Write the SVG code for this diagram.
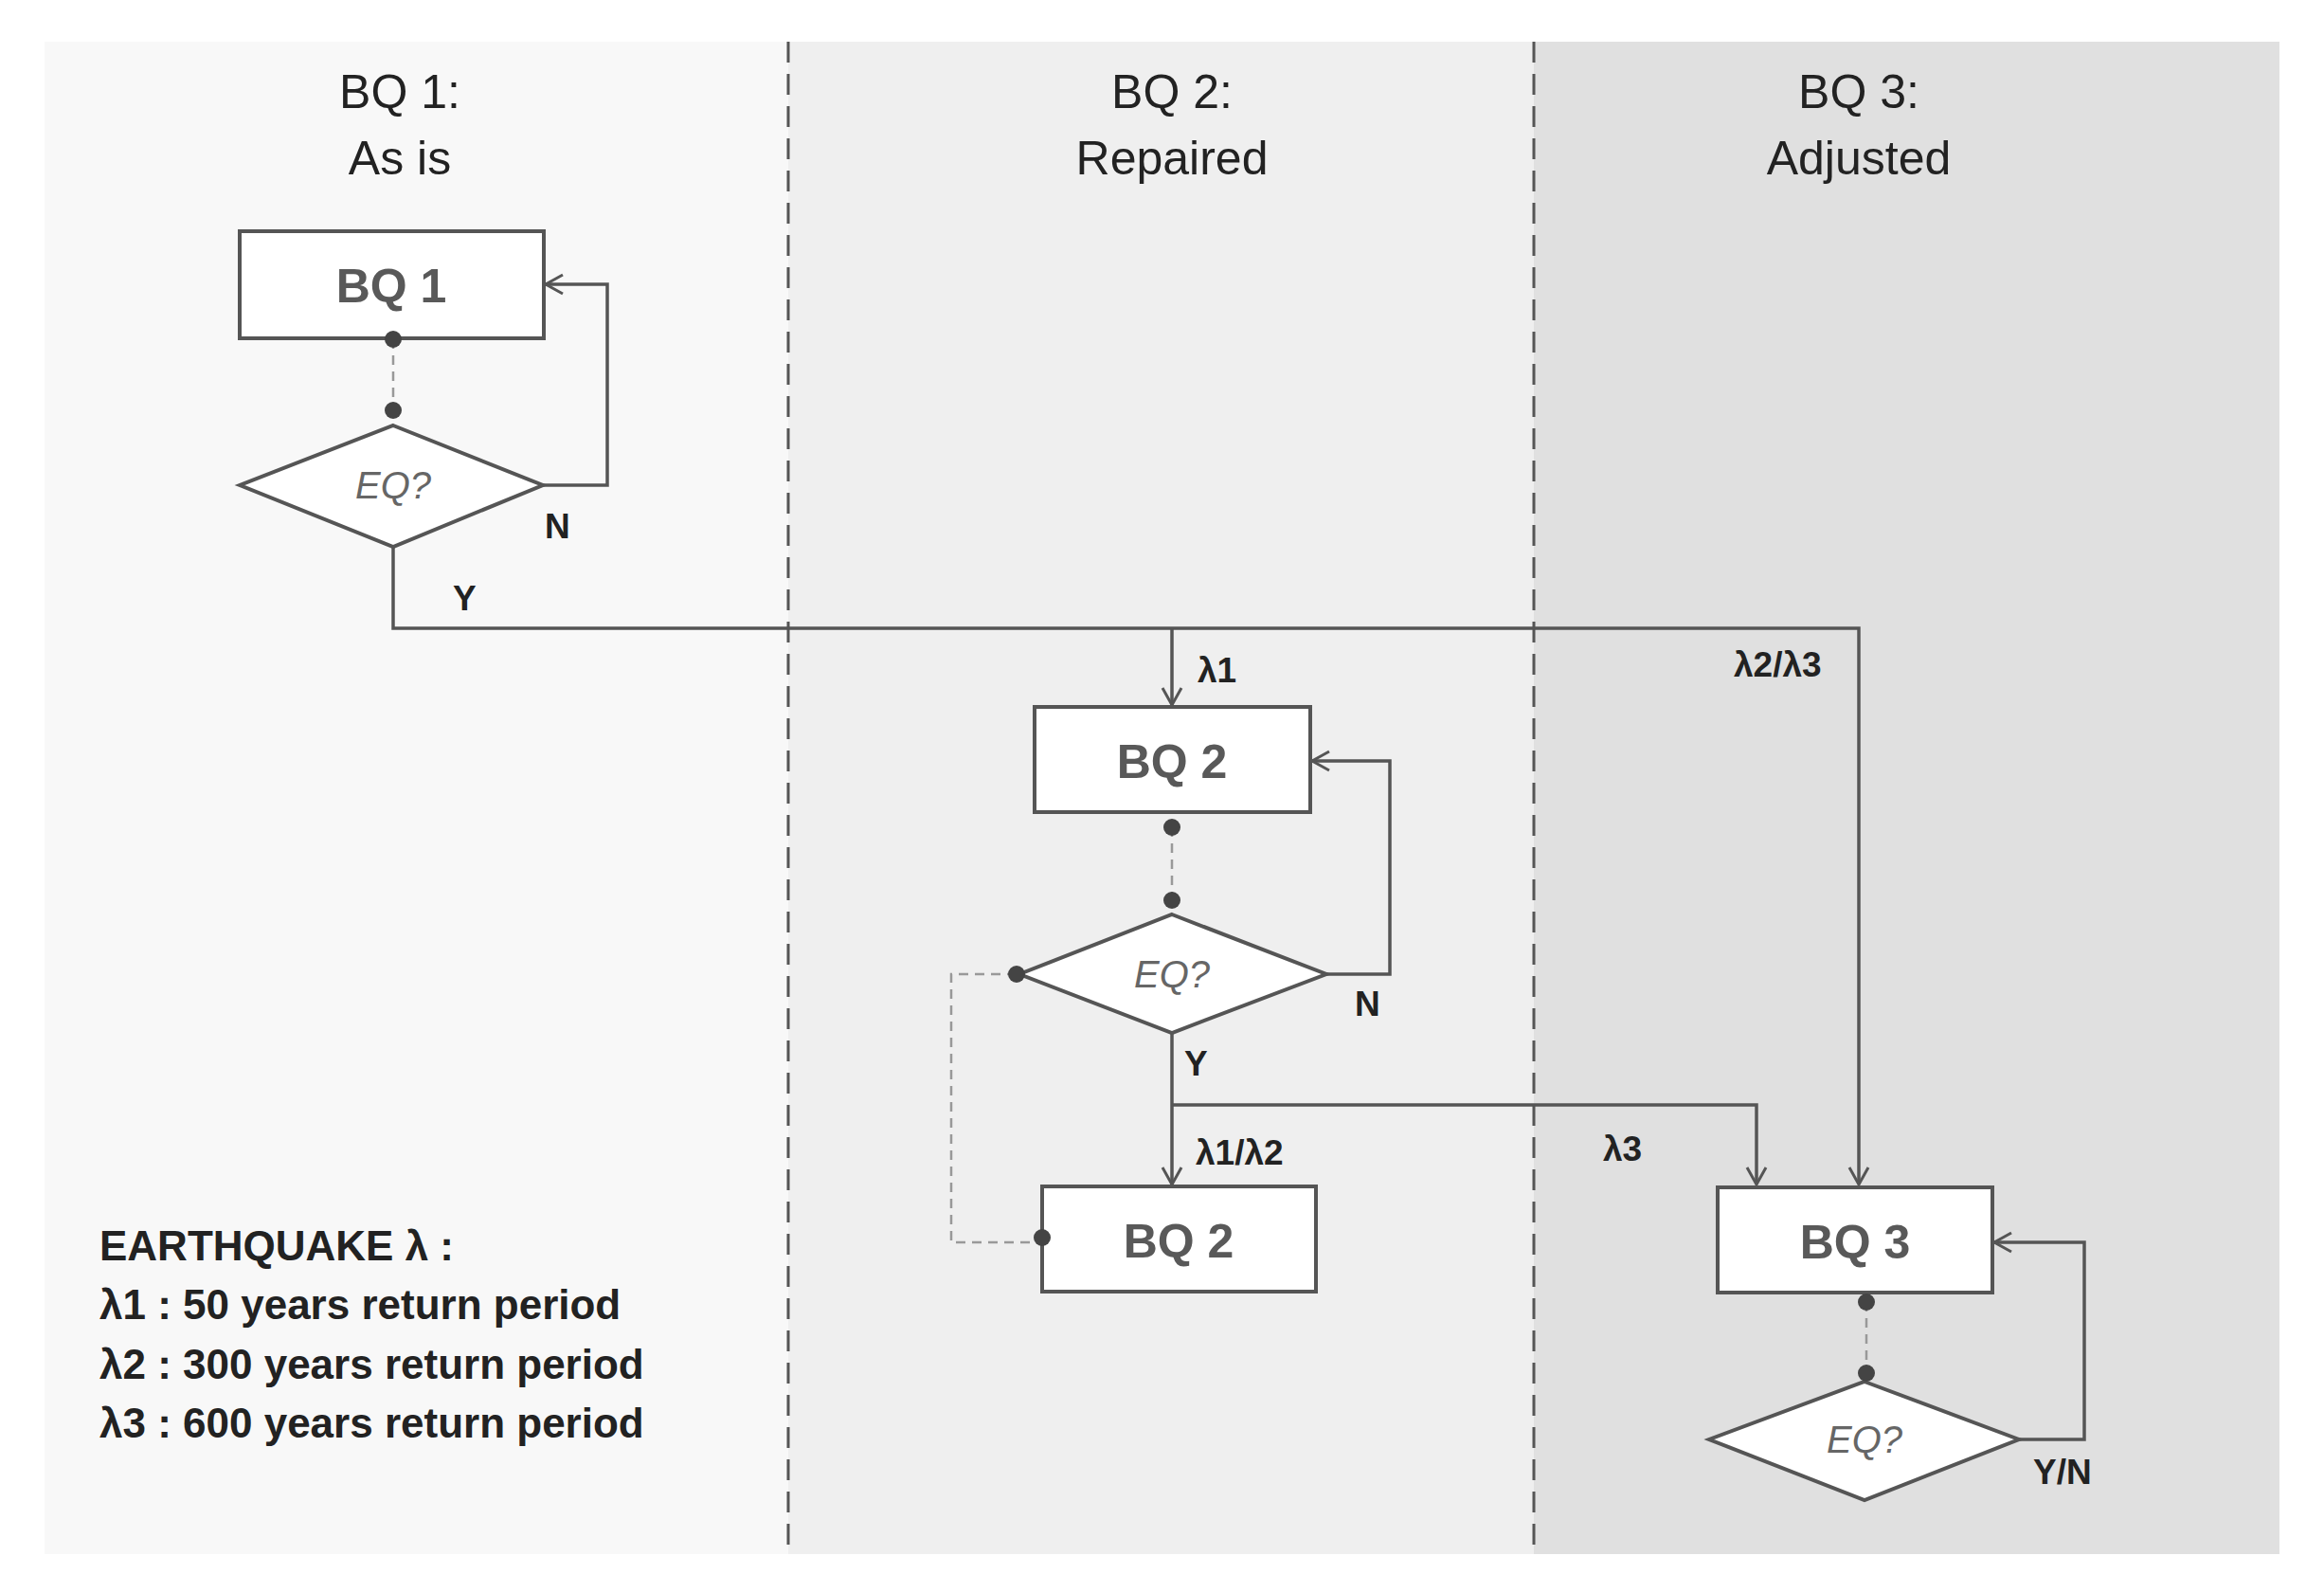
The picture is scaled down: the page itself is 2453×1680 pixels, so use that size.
<svg xmlns="http://www.w3.org/2000/svg" width="2453" height="1680" viewBox="0 0 2453 1680">
<defs>
<marker id="ar" markerWidth="24" markerHeight="24" refX="20" refY="12" orient="auto" markerUnits="userSpaceOnUse"><path d="M2,2 L20,12 L2,22" fill="none" stroke="#555" stroke-width="3"/></marker>
</defs>
<style>
.box{fill:#fff;stroke:#555;stroke-width:4}
.nt{font-family:"Liberation Sans",Arial,sans-serif;font-weight:bold;font-size:50px;fill:#595959;text-anchor:middle}
.eq{font-family:"Liberation Sans",Arial,sans-serif;font-style:italic;font-size:40px;fill:#666;text-anchor:middle}
.ttl{font-family:"Liberation Sans",Arial,sans-serif;font-size:50px;fill:#222;text-anchor:middle}
.lb{font-family:"Liberation Sans",Arial,sans-serif;font-weight:bold;font-size:37px;fill:#222}
.lg{font-family:"Liberation Sans",Arial,sans-serif;font-weight:bold;font-size:44px;fill:#222}
.ln{fill:none;stroke:#555;stroke-width:3.5}
.dl{fill:none;stroke:#999;stroke-width:2.5;stroke-dasharray:10 7}
.dot{fill:#444}
.sep{stroke:#555;stroke-width:3;stroke-dasharray:22 12}
</style>
<rect width="2453" height="1680" fill="#fff"/>
<rect x="47" y="44" width="785" height="1596" fill="#f8f8f8"/>
<rect x="832" y="44" width="787" height="1596" fill="#efefef"/>
<rect x="1619" y="44" width="787" height="1596" fill="#e0e0e0"/>
<line class="sep" x1="832" y1="44" x2="832" y2="1640"/>
<line class="sep" x1="1619" y1="44" x2="1619" y2="1640"/>
<text class="ttl" x="422" y="114">BQ 1:</text><text class="ttl" x="422" y="184">As is</text>
<text class="ttl" x="1237" y="114">BQ 2:</text><text class="ttl" x="1237" y="184">Repaired</text>
<text class="ttl" x="1962" y="114">BQ 3:</text><text class="ttl" x="1962" y="184">Adjusted</text>
<g id="connectors">
<line class="dl" x1="415" y1="358" x2="415" y2="433"/>
<path class="ln" d="M573,512 H641 V300 H576" marker-end="url(#ar)"/>
<path class="ln" d="M415,577 V663 H1962 V1250" marker-end="url(#ar)"/>
<path class="ln" d="M1237,663 V744" marker-end="url(#ar)"/>
<line class="dl" x1="1237" y1="873" x2="1237" y2="950"/>
<path class="ln" d="M1400,1028 H1467 V803 H1385" marker-end="url(#ar)"/>
<path class="ln" d="M1237,1090 V1250" marker-end="url(#ar)"/>
<path class="ln" d="M1237,1166 H1854 V1250" marker-end="url(#ar)"/>
<path class="dl" d="M1073,1028 H1004 V1311 H1100"/>
<line class="dl" x1="1970" y1="1374" x2="1970" y2="1449"/>
<path class="ln" d="M2131,1519 H2200 V1311 H2105" marker-end="url(#ar)"/>
<text class="lb" x="575" y="568">N</text>
<text class="lb" x="478" y="644">Y</text>
<text class="lb" x="1264" y="720">λ1</text>
<text class="lb" x="1830" y="714">λ2/λ3</text>
<text class="lb" x="1430" y="1072">N</text>
<text class="lb" x="1250" y="1135">Y</text>
<text class="lb" x="1262" y="1229">λ1/λ2</text>
<text class="lb" x="1692" y="1225">λ3</text>
<text class="lb" x="2146" y="1566">Y/N</text>
</g>
<g id="bq1"><rect class="box" x="253" y="244" width="321" height="113"/><text class="nt" x="413" y="319">BQ 1</text><circle class="dot" cx="415" cy="358" r="9"/></g>
<g id="eq1"><polygon class="box" points="415,449 573,512 415,577 253,512"/><text class="eq" x="415" y="526">EQ?</text><circle class="dot" cx="415" cy="433" r="9"/></g>
<g id="bq2a"><rect class="box" x="1092" y="746" width="291" height="111"/><text class="nt" x="1237" y="821">BQ 2</text><circle class="dot" cx="1237" cy="873" r="9"/></g>
<g id="eq2"><polygon class="box" points="1237,965 1400,1028 1237,1090 1076,1028"/><text class="eq" x="1237" y="1042">EQ?</text><circle class="dot" cx="1237" cy="950" r="9"/><circle class="dot" cx="1073" cy="1028" r="9"/></g>
<g id="bq2b"><rect class="box" x="1100" y="1252" width="289" height="111"/><text class="nt" x="1244" y="1327">BQ 2</text><circle class="dot" cx="1100" cy="1306" r="9"/></g>
<g id="bq3"><rect class="box" x="1813" y="1253" width="290" height="111"/><text class="nt" x="1958" y="1328">BQ 3</text><circle class="dot" cx="1970" cy="1374" r="9"/></g>
<g id="eq3"><polygon class="box" points="1968,1458 2131,1519 1968,1583 1804,1519"/><text class="eq" x="1968" y="1533">EQ?</text><circle class="dot" cx="1970" cy="1449" r="9"/></g>
<g id="legend">
<text class="lg" x="105" y="1330">EARTHQUAKE λ :</text>
<text class="lg" x="105" y="1392">λ1 : 50 years return period</text>
<text class="lg" x="105" y="1455">λ2 : 300 years return period</text>
<text class="lg" x="105" y="1517">λ3 : 600 years return period</text>
</g>
</svg>
